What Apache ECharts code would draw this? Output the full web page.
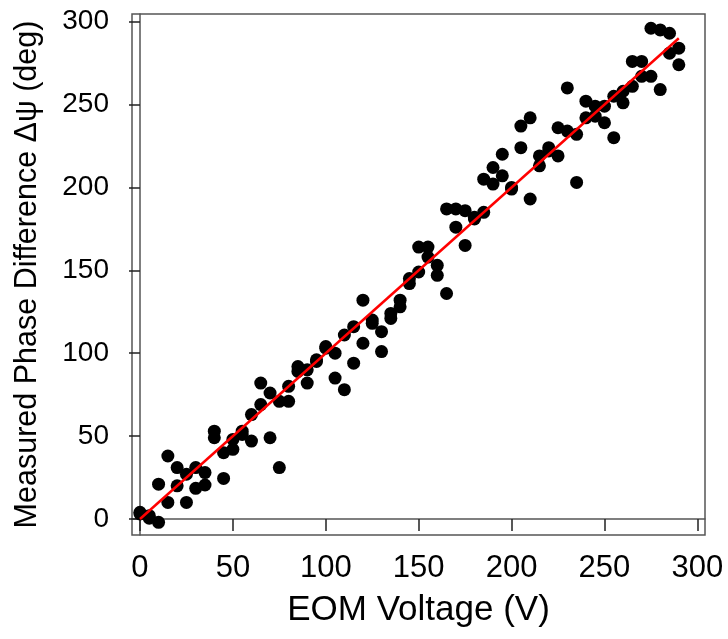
<!DOCTYPE html>
<html>
<head>
<meta charset="utf-8">
<script src="https://cdn.jsdelivr.net/npm/echarts@6/dist/echarts.min.js"></script>
<style>html,body{margin:0;padding:0;background:#fff}#c{width:728px;height:639px}</style>
</head>
<body>
<div id="c"></div>
<script>
const voltage = [0,5,10,15,20,25,30,35,40,45,50,55,60,65,70,75,80,85,90,95,100,105,110,115,120,125,130,135,140,145,150,155,160,165,170,175,180,185,190,195,200,205,210,215,220,225,230,235,240,245,250,255,260,265,270,275,280,285,290];
const phaseA = [4,2,21,38,31,27,31,28,53,40,48,53,63,82,76,71,80,92,90,96,104,100,111,116,132,120,113,124,132,145,164,164,153,187,187,186,181,205,212,220,199,237,242,219,224,236,260,232,252,249,249,255,258,276,276,296,295,293,284];
const phaseB = [3,0.5,-2,10,20,10,18.5,20.5,49,24.5,42,51,47,69,49,31,71,89,82,95,103,85,78,94,106,118,101,121,128,142,149,158,147,136,176,165,182,185,202,207,200,224,193,213,222,219,234,203,242,243,239,230,251,261,267,267,259,281,274];
const fitX = [0, 290];
const fitY = [0, 290];
const xTicks = [0,50,100,150,200,250,300];
const yTicks = [0,50,100,150,200,250,300];

const pts = [];
voltage.forEach((v,i)=>{ pts.push([v,phaseA[i]]); pts.push([v,phaseB[i]]); });
const fit = fitX.map((x,i)=>[x,fitY[i]]);

const FONT = 'Liberation Sans, Arial, sans-serif';
const chart = echarts.init(document.getElementById('c'), null, {renderer:'canvas'});
chart.setOption({
  animation:false,
  backgroundColor:'#fff',
  grid:{left:132, top:14, right:23, bottom:104, show:true, borderColor:'#555', borderWidth:1.5, backgroundColor:'transparent'},
  xAxis:{
    type:'value', min:-4.3, max:304.1,
    name:'EOM Voltage (V)', nameLocation:'middle', nameGap:58,
    nameTextStyle:{fontFamily:FONT, fontSize:35, color:'#000'},
    axisLine:{show:true, lineStyle:{color:'#555', width:1.5}},
    axisTick:{show:true, length:12, inside:false, customValues:xTicks, lineStyle:{color:'#222', width:1.5}},
    axisLabel:{customValues:xTicks, margin:18, fontFamily:FONT, fontSize:31, color:'#000'},
    splitLine:{show:false}
  },
  yAxis:{
    type:'value', min:-9.65, max:304.6,
    name:'Measured Phase Difference \u0394\u03c8 (deg)', nameLocation:'middle', nameGap:89,
    nameTextStyle:{fontFamily:FONT, fontSize:30.5, color:'#000'},
    axisLine:{show:true, lineStyle:{color:'#555', width:1.5}},
    axisTick:{show:true, length:11, inside:false, customValues:yTicks, lineStyle:{color:'#222', width:1.5}},
    axisLabel:{customValues:yTicks, margin:23, fontFamily:FONT, fontSize:28, color:'#000'},
    splitLine:{show:false}
  },
  series:[
    {type:'scatter', data:pts, symbol:'circle', symbolSize:13, itemStyle:{color:'#000', opacity:1}, z:2},
    {type:'line', data:fit, showSymbol:false, symbol:'none', lineStyle:{color:'#ff0000', width:2.5}, z:3}
  ]
});
</script>
</body>
</html>
